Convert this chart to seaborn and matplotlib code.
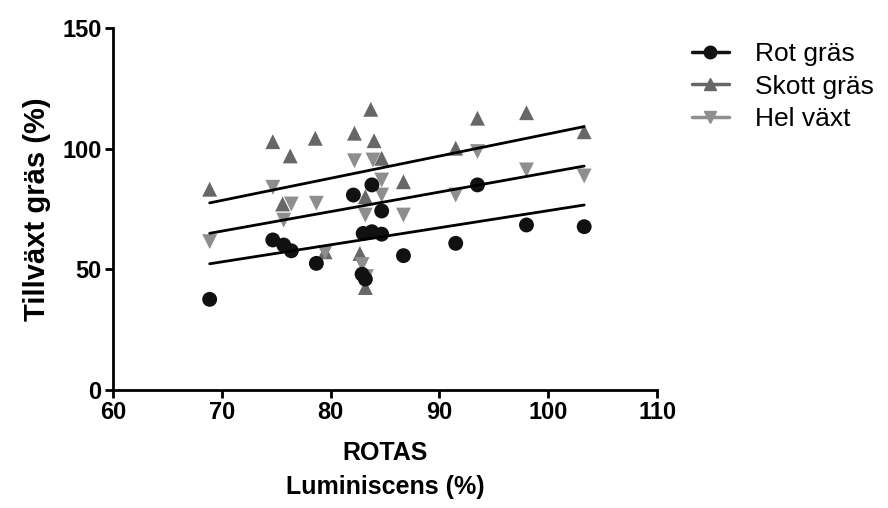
import matplotlib
matplotlib.use("Agg")
import matplotlib.pyplot as plt
from matplotlib.lines import Line2D
import seaborn as sns
import pandas as pd

# ===============================
# Data
# ===============================
rot_x = [68.9, 74.7, 75.7, 76.4, 78.7, 82.1, 82.9, 83.2, 83.0, 83.8, 84.7, 83.8,
         84.7, 86.7, 91.5, 93.5, 98.0, 103.3]
rot_y = [37.6, 62.2, 60.1, 57.7, 52.5, 80.8, 48.0, 46.0, 64.9, 65.6, 64.6, 85.0,
         74.2, 55.7, 60.8, 85.0, 68.4, 67.7]

skott_x = [68.9, 74.7, 76.3, 78.6, 75.6, 79.5, 82.2, 83.7, 84.0, 84.7, 83.2, 86.7,
           82.7, 83.2, 91.5, 93.5, 98.0, 103.3]
skott_y = [83.2, 102.9, 97.0, 104.3, 77.1, 57.3, 106.4, 116.3, 103.3, 96.0, 80.1, 86.3,
           56.6, 42.5, 100.2, 112.6, 114.9, 107.0]

hel_x = [68.9, 74.7, 76.4, 78.7, 75.7, 79.5, 82.2, 83.9, 84.7, 84.7, 83.2, 86.7,
         82.9, 83.3, 91.5, 93.5, 98.0, 103.3]
hel_y = [61.5, 84.0, 77.1, 77.4, 70.4, 57.0, 95.0, 95.3, 87.0, 80.8, 72.5, 72.5,
         52.0, 47.0, 80.8, 98.8, 91.2, 88.7]

series = ["Rot gräs", "Skott gräs", "Hel växt"]

df = pd.concat([
    pd.DataFrame({"x": rot_x, "y": rot_y, "serie": series[0]}),
    pd.DataFrame({"x": skott_x, "y": skott_y, "serie": series[1]}),
    pd.DataFrame({"x": hel_x, "y": hel_y, "serie": series[2]}),
])

colors = {"Rot gräs": "#111111", "Skott gräs": "#676767", "Hel växt": "#8e8e8e"}
markers = {"Rot gräs": "o", "Skott gräs": "^", "Hel växt": "v"}

sns.set_style("ticks")
plt.rcParams["font.family"] = ["Liberation Sans", "DejaVu Sans"]
plt.rcParams["text.color"] = "black"
plt.rcParams["axes.labelcolor"] = "black"
plt.rcParams["xtick.color"] = "black"
plt.rcParams["ytick.color"] = "black"

fig = plt.figure(figsize=(8.88, 5.08), dpi=100)
ax = fig.add_axes([0.127, 0.232, 0.613, 0.713])

# points, drawn lightest first so the circles end up on top
for name in ["Skott gräs", "Hel växt", "Rot gräs"]:
    d = df[df["serie"] == name]
    sns.scatterplot(data=d, x="x", y="y", color=colors[name], marker=markers[name],
                    s=115, edgecolor="none", ax=ax, zorder=2, legend=False)

# linear fits
for name in series:
    d = df[df["serie"] == name]
    sns.regplot(data=d, x="x", y="y", scatter=False, ci=None, truncate=True,
                color="black", line_kws={"linewidth": 2.0, "zorder": 3}, ax=ax)

ax.set_xlim(60, 110)
ax.set_ylim(0, 150)
ax.set_xticks([60, 70, 80, 90, 100, 110])
ax.set_yticks([0, 50, 100, 150])
sns.despine(ax=ax)
for s in ["left", "bottom"]:
    ax.spines[s].set_linewidth(2.0)
    ax.spines[s].set_color("black")
ax.tick_params(width=2.0, length=6, color="black", labelsize=17, pad=2)
for lab in ax.get_xticklabels() + ax.get_yticklabels():
    lab.set_fontweight("bold")

ax.set_xlabel("ROTAS\nLuminiscens (%)", fontsize=18, fontweight="bold",
              labelpad=12, linespacing=1.55)
ax.set_ylabel("Tillväxt gräs (%)", fontsize=21, fontweight="bold", labelpad=8)

handles = [Line2D([], [], color=colors[n], marker=markers[n], markersize=9,
                  linewidth=2.5) for n in series]
fig.legend(handles, series, loc="upper left", bbox_to_anchor=(0.779, 0.917),
           frameon=False, fontsize=19, handlelength=1.4, handletextpad=1.0,
           labelspacing=0.32, borderpad=0, borderaxespad=0)

fig.savefig("out.png", dpi=100)
